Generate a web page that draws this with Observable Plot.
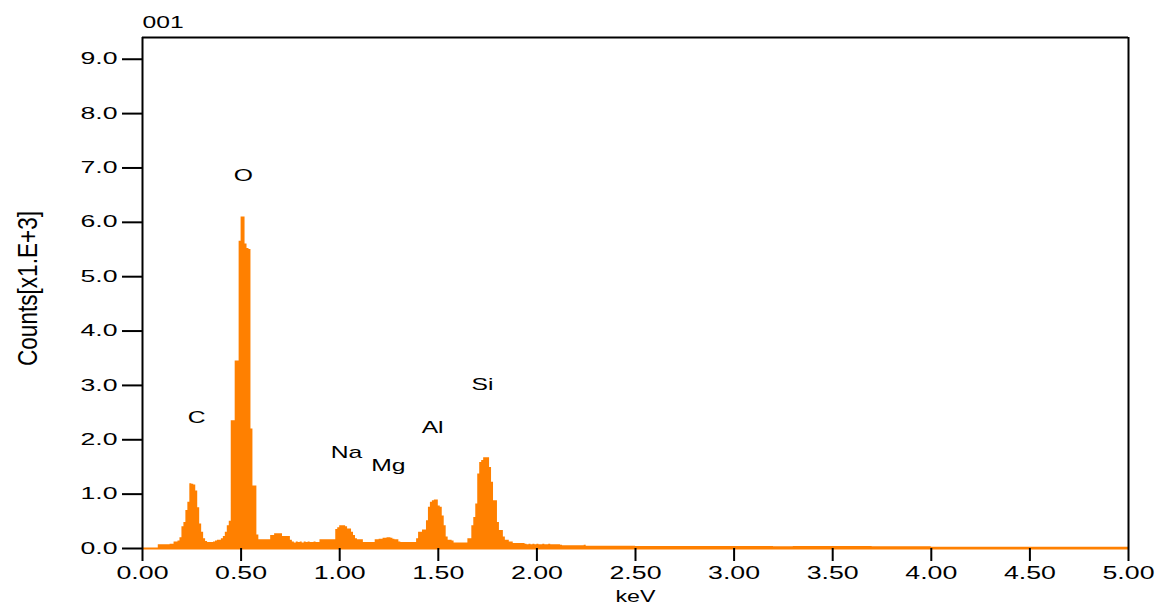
<!DOCTYPE html>
<html><head><meta charset="utf-8">
<script src="https://cdn.jsdelivr.net/npm/d3@7"></script>
<script src="https://cdn.jsdelivr.net/npm/@observablehq/plot@0.6"></script>
<style>body{margin:0;background:#fff}</style>
</head><body><div id="chart"></div>
<script>
// EDS spectrum, counts (x1000) per 0.01 keV channel from 0.00 to 2.29 keV
const countsFine = [
  0, 0, 0, 0, 0, 0, 0, 0, 0.07, 0.07,               // 0.00
  0.07, 0.07, 0.07, 0.07, 0.08, 0.08, 0.12, 0.12, 0.14, 0.20, // 0.10
  0.40, 0.48, 0.70, 0.85, 1.19, 1.18, 1.17, 1.06, 0.75, 0.45, // 0.20
  0.30, 0.18, 0.13, 0.11, 0.11, 0.11, 0.12, 0.14, 0.15, 0.15, // 0.30
  0.18, 0.22, 0.30, 0.42, 0.50, 2.35, 2.35, 3.45, 3.45, 5.65, // 0.40
  6.10, 6.10, 5.60, 5.52, 5.50, 2.20, 1.15, 1.15, 0.25, 0.16, // 0.50
  0.16, 0.16, 0.16, 0.16, 0.16, 0.24, 0.24, 0.27, 0.27, 0.27, // 0.60
  0.27, 0.22, 0.22, 0.22, 0.22, 0.15, 0.12, 0.10, 0.12, 0.11, // 0.70
  0.12, 0.10, 0.12, 0.11, 0.12, 0.11, 0.11, 0.12, 0.11, 0.11, // 0.80
  0.16, 0.16, 0.16, 0.16, 0.16, 0.16, 0.16, 0.16, 0.35, 0.38, // 0.90
  0.42, 0.42, 0.42, 0.40, 0.36, 0.36, 0.30, 0.24, 0.18, 0.16, // 1.00
  0.16, 0.16, 0.11, 0.11, 0.11, 0.11, 0.11, 0.11, 0.16, 0.16, // 1.10
  0.17, 0.17, 0.19, 0.19, 0.20, 0.20, 0.19, 0.17, 0.16, 0.16, // 1.20
  0.12, 0.11, 0.11, 0.11, 0.11, 0.11, 0.11, 0.11, 0.11, 0.18, // 1.30
  0.30, 0.30, 0.34, 0.34, 0.51, 0.76, 0.85, 0.88, 0.89, 0.89, // 1.40
  0.78, 0.76, 0.60, 0.42, 0.21, 0.15, 0.15, 0.14, 0.10, 0.10, // 1.50
  0.10, 0.10, 0.10, 0.10, 0.10, 0.18, 0.18, 0.42, 0.57, 0.82, // 1.60
  1.37, 1.58, 1.62, 1.67, 1.67, 1.67, 1.49, 1.22, 0.88, 0.88, // 1.70
  0.48, 0.33, 0.33, 0.21, 0.15, 0.15, 0.12, 0.12, 0.09, 0.09, // 1.80
  0.09, 0.09, 0.09, 0.09, 0.08, 0.07, 0.08, 0.07, 0.08, 0.07, // 1.90
  0.08, 0.07, 0.07, 0.08, 0.07, 0.07, 0.08, 0.07, 0.07, 0.07, // 2.00
  0.07, 0.07, 0.06, 0.05, 0.05, 0.05, 0.05, 0.05, 0.05, 0.05, // 2.10
  0.05, 0.05, 0.05, 0.05, 0.06, 0.04, 0.04, 0.04, 0.04, 0.04  // 2.20
];
const channelWidth = 0.01;
// background tail, coarser channels
const tailEnergy = [2.3, 2.4, 2.5, 2.6, 2.7, 2.8, 2.9, 3.0, 3.1, 3.2, 3.3, 3.4, 3.5, 3.6,
                    3.7, 3.8, 3.9, 4.0, 4.1, 4.2, 4.3, 4.4, 4.5, 4.6, 4.7, 4.8, 4.9, 5.0];
const tailCounts = [0.04, 0.04, 0.035, 0.035, 0.035, 0.035, 0.035, 0.035, 0.035, 0.03, 0.035, 0.035, 0.035, 0.035,
                    0.03, 0.03, 0.03, 0.025, 0.025, 0.025, 0.025, 0.025, 0.025, 0.025, 0.025, 0.025, 0.025, 0.025];

const xTicks = [0, 0.5, 1, 1.5, 2, 2.5, 3, 3.5, 4, 4.5, 5];
const yTicks = [0, 1, 2, 3, 4, 5, 6, 7, 8, 9];

const peakNames  = ["C", "O", "Na", "Mg", "Al", "Si"];
const peakLabelE = [0.274, 0.512, 1.034, 1.247, 1.471, 1.724];
const peakLabelY = [2.41, 6.86, 1.77, 1.53, 2.23, 3.02];

const sampleName = "001";
const xLabel = "keV";
const yLabel = "Counts[x1.E+3]";

const spectrum = countsFine.map((c, i) => ({e: +(i * channelWidth).toFixed(2), c}))
  .concat(tailEnergy.map((e, i) => ({e, c: tailCounts[i]})));

const orange = "#ff8000";

const svg = Plot.plot({
  width: 1157,
  height: 604,
  marginLeft: 142,
  marginRight: 29,
  marginTop: 37,
  marginBottom: 56,
  style: {fontFamily: "Liberation Sans, Arial, sans-serif", fontSize: "16px", color: "black", background: "white"},
  x: {domain: [0, 5]},
  y: {domain: [0, 9.4]},
  marks: [
    Plot.areaY(spectrum, {x: "e", y: "c", curve: "step-after", fill: orange}),
    Plot.ruleY([0], {stroke: orange, strokeWidth: 2}),
    Plot.ruleX([0, 5], {stroke: "black", strokeWidth: 2}),
    Plot.ruleY([9.4], {stroke: "black", strokeWidth: 2}),
    Plot.axisX(xTicks, {anchor: "bottom", tickSize: 13, tickPadding: 5, strokeWidth: 2,
      tickFormat: d => d.toFixed(2), fontSize: 18, label: null}),
    Plot.axisY(yTicks, {anchor: "left", tickSize: 20, tickPadding: 5, strokeWidth: 2,
      tickFormat: d => d.toFixed(1), fontSize: 16, label: null}),
    Plot.text(peakNames, {x: (d, i) => peakLabelE[i], y: (d, i) => peakLabelY[i], text: d => d, fontSize: 17, fill: "black"}),
    Plot.text([sampleName], {frameAnchor: "top-left", lineAnchor: "middle", dy: -15, textAnchor: "start", fontSize: 17, fill: "black"}),
    Plot.text([xLabel], {frameAnchor: "bottom", lineAnchor: "middle", dy: 48, fontSize: 16, fill: "black"}),
    Plot.text([yLabel], {frameAnchor: "left", lineAnchor: "middle", rotate: -90, textAnchor: "start", dx: -114, dy: 73, fontSize: 28, fill: "black"})
  ]
});
document.getElementById("chart").append(svg);

// widen/condense glyphs like the original instrument output
svg.querySelectorAll("text").forEach(t => {
  const g = t.closest("g");
  const lab = g ? g.getAttribute("aria-label") : "";
  let len;
  if (lab === "y-axis tick label") len = 37;
  else if (lab === "x-axis tick label") len = 52;
  else if (t.textContent === yLabel) len = 155;
  else len = t.getComputedTextLength() * 1.45;
  t.setAttribute("textLength", len);
  t.setAttribute("lengthAdjust", "spacingAndGlyphs");
});
</script>
</body></html>
